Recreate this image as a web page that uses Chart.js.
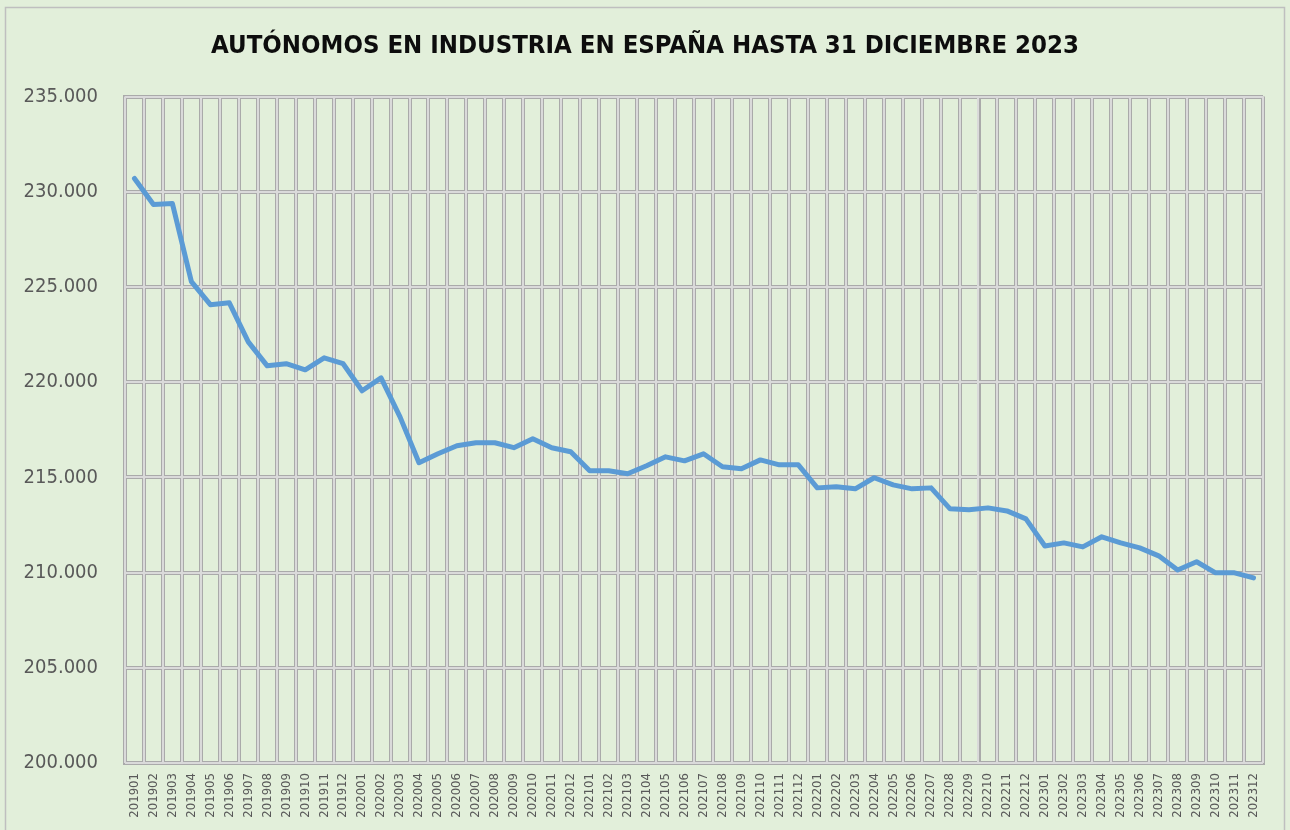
<!DOCTYPE html>
<html>
<head>
<meta charset="utf-8">
<script src="https://cdn.jsdelivr.net/npm/chart.js"></script>
<style>
html,body{margin:0;padding:0;background:#e2efda;}
#wrap{width:1290px;height:830px;position:relative;}
</style>
</head>
<body>
<div id="wrap"><canvas id="c" width="1290" height="830"></canvas></div>
<script>
const TITLE = 'AUTÓNOMOS EN INDUSTRIA EN ESPAÑA HASTA 31 DICIEMBRE 2023';
const categories = [
 '201901','201902','201903','201904','201905','201906','201907','201908','201909','201910','201911','201912',
 '202001','202002','202003','202004','202005','202006','202007','202008','202009','202010','202011','202012',
 '202101','202102','202103','202104','202105','202106','202107','202108','202109','202110','202111','202112',
 '202201','202202','202203','202204','202205','202206','202207','202208','202209','202210','202211','202212',
 '202301','202302','202303','202304','202305','202306','202307','202308','202309','202310','202311','202312'
];
const autonomos = [
 230700,229330,229380,225280,224070,224170,222120,220860,220970,220650,221280,220970,
 219550,220230,218180,215770,216240,216660,216820,216820,216560,217030,216560,216350,
 215350,215350,215190,215610,216080,215870,216240,215560,215450,215920,215660,215660,
 214450,214510,214400,214980,214610,214400,214450,213350,213300,213400,213240,212820,
 211400,211560,211350,211880,211560,211300,210880,210140,210570,209990,209990,209720
];
const yMin = 200000, yMax = 235000, yStep = 5000;

const NARROW = "'Liberation Sans Narrow','Arial Narrow','DejaVu Sans Condensed',sans-serif";

const framePlugin = {
  id: 'frame',
  beforeDraw(chart) {
    const ctx = chart.ctx;
    ctx.save();
    ctx.fillStyle = '#e2efda';
    ctx.fillRect(0, 0, chart.width, chart.height);
    ctx.strokeStyle = '#bfbfbf';
    ctx.lineWidth = 1.5;
    ctx.strokeRect(5.5, 7.5, chart.width - 11, chart.height + 20);
    ctx.restore();
  },
  beforeDatasetsDraw(chart) {
    // inner light stripe of the double grid lines
    const ctx = chart.ctx, a = chart.chartArea;
    const xs = chart.scales.x, ys = chart.scales.y;
    ctx.save();
    ctx.strokeStyle = '#dadada';
    ctx.lineWidth = 2;
    ctx.beginPath();
    const n = xs.ticks.length;
    const w = (a.right - a.left) / n;
    for (let i = 0; i <= n; i++) {
      const x = Math.round(a.left + i * w);
      ctx.moveTo(x, a.top); ctx.lineTo(x, a.bottom);
    }
    ys.ticks.forEach(t => {
      const y = Math.round(ys.getPixelForValue(t.value));
      ctx.moveTo(a.left, y); ctx.lineTo(a.right, y);
    });
    ctx.stroke();
    ctx.restore();
  }
};

new Chart(document.getElementById('c'), {
  type: 'line',
  data: {
    labels: categories,
    datasets: [{
      data: autonomos,
      borderColor: '#5b9bd5',
      borderWidth: 5,
      pointRadius: 0,
      tension: 0,
      borderJoinStyle: 'round',
      borderCapStyle: 'round'
    }]
  },
  options: {
    responsive: false,
    animation: false,
    layout: { padding: { left: 0, right: 0, top: 0, bottom: 0 } },
    plugins: {
      legend: { display: false },
      tooltip: { enabled: false },
      title: {
        display: true,
        text: TITLE,
        color: '#0d0d0d',
        font: { family: NARROW, size: 25.5, weight: 'bold' },
        padding: { top: 31, bottom: 35 }
      }
    },
    scales: {
      x: {
        offset: true,
        grid: { offset: true, color: '#aaaaaa', lineWidth: 4, drawTicks: false },
        border: { color: '#aaaaaa', width: 4 },
        ticks: {
          autoSkip: false, maxRotation: 90, minRotation: 90,
          color: '#595959', padding: 10,
          font: { family: NARROW, size: 13 }
        },
        afterFit(s) { s.height = 67; }
      },
      y: {
        min: yMin, max: yMax,
        grid: { color: '#aaaaaa', lineWidth: 4, drawTicks: false },
        border: { color: '#aaaaaa', width: 4 },
        ticks: {
          stepSize: yStep,
          color: '#595959', padding: 27,
          font: { family: NARROW, size: 20 },
          callback: v => v.toLocaleString('de-DE', { useGrouping: true, minimumFractionDigits: 0 }).replace(/,/g, '.')
        },
        afterFit(s) { s.width = 125; }
      },
      yRight: {
        position: 'right',
        display: true,
        grid: { display: false, drawTicks: false },
        border: { display: false },
        ticks: { display: false },
        afterFit(s) { s.width = 27; }
      }
    }
  },
  plugins: [framePlugin]
});
</script>
</body>
</html>
